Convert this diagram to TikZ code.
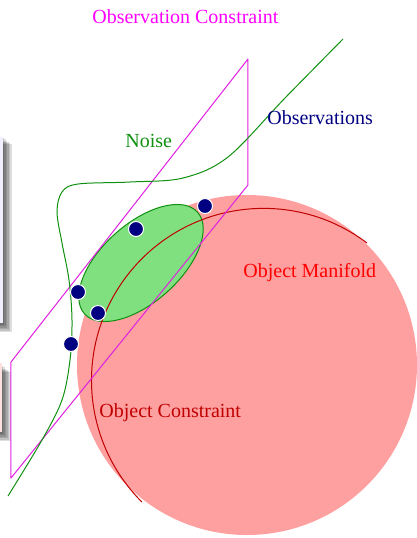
\documentclass[tikz,border=0pt]{standalone}
\usepackage{fontspec}
\setmainfont{Liberation Serif}
\usepackage{xcolor}
\usetikzlibrary{positioning}
\definecolor{obsmag}{HTML}{E020E0}
\definecolor{txtmag}{HTML}{FF00FF}
\definecolor{noisegreen}{HTML}{109010}
\definecolor{ellfill}{HTML}{80E080}
\definecolor{manipink}{HTML}{FFA0A0}
\definecolor{arcred}{HTML}{C00000}
\definecolor{obsnavy}{HTML}{000080}

\begin{document}
\begin{tikzpicture}[x=0.5pt, y=-0.5pt,
    lbl/.style={font=\fontsize{10}{12}\selectfont, inner sep=0pt, anchor=base west},
    dot/.style={circle, fill=obsnavy, draw=white, line width=0.5pt, minimum size=7.5pt, inner sep=0pt},
    plane/.style={draw=obsmag, line width=0.5pt, line join=round},
    noise/.style={draw=noisegreen, line width=0.5pt}
]
\useasboundingbox (0,0) rectangle (417,538);
\clip (0,0) rectangle (417,538);

% boxes cut off at the left edge
\foreach \s in {1,...,6}
  \fill[black, opacity=0.13] (-20,{137+1.2*\s}) rectangle ({3+1.5*\s},{323+1.5*\s});
\fill[blue!6] (-20,137) rectangle (3,323);
\foreach \s in {1,...,6}
  \fill[black, opacity=0.13] (-20,{365+1.2*\s}) rectangle ({2+1.5*\s},{432+1.5*\s});
\fill[red!12] (-20,363) rectangle (2,432);

% object manifold
\fill[manipink] (247,365) circle[radius=170];
\fill[ellfill, draw=noisegreen, line width=0.5pt, rotate around={42:(141,263)}]
  (141,263) ellipse[x radius=76, y radius=39];
\draw[arcred, line width=0.5pt] (367,243) arc[start angle=-53, end angle=-225, radius=172];

% observation constraint
\draw[plane] (248,59) -- (248,185) -- (11,478) -- (11,362) -- cycle;

% noise
\draw[noise] plot[smooth, tension=0.55] coordinates {(8,496) (42,440) (62,400) (70,360) (72,320)
  (69,280) (62,243) (57,212) (62,192) (78,184) (130,182) (183,178) (228,157) (285,98) (343,39)};

% observations
\node[dot] (o1) at (136,229) {};
\node[dot] (o2) at (205,206) {};
\node[dot] (o3) at (78,292) {};
\node[dot] (o4) at (98,313) {};
\node[dot] (o5) at (71,344) {};

\node[lbl, text=txtmag] (obscon) at (92,23) {Observation Constraint};
\node[lbl, text=obsnavy] (obs) at (267,124) {Observations};
\node[lbl, text=noisegreen] (noiselbl) at (125,147) {Noise};
\node[lbl, text=red] (manif) at (243,277) {Object Manifold};
\node[lbl, text=arcred] (objcon) at (99,417) {Object Constraint};

\end{tikzpicture}
\end{document}
